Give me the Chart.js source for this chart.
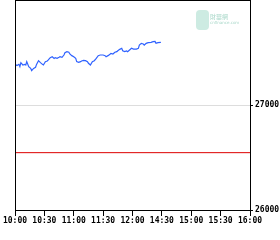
<!DOCTYPE html>
<html>
<head>
<meta charset="utf-8">
<script src="https://cdn.jsdelivr.net/npm/chart.js@4/dist/chart.umd.min.js"></script>
<style>
  html, body { margin: 0; padding: 0; background: #fff; }
</style>
</head>
<body>
<canvas id="chart" width="280" height="240"></canvas>
<script>
// Tick labels along the time axis (one every 30 trading minutes)
const timeLabels = ['10:00', '10:30', '11:00', '11:30', '12:00', '14:30', '15:00', '15:30', '16:00'];
const yTicks = [26000, 27000];
const yMin = 26000;
const yMax = 28000;

// Trading minutes since open, and index level at that minute
const minutes = [0, 2, 4, 5, 6, 8, 10, 11, 12, 14, 16, 17, 19, 21, 22, 24, 26, 28, 29, 31,
    33, 34, 36, 38, 40, 41, 43, 45, 46, 48, 50, 51, 53, 55, 56, 58, 60, 62, 63, 65,
    67, 68, 70, 72, 74, 75, 77, 79, 81, 83, 85, 87, 90, 92, 93, 95, 97, 98, 100, 102,
    104, 105, 107, 109, 110, 112, 114, 115, 117, 119, 121, 124, 126, 127, 129, 131, 132, 134, 136, 139,
    141, 143, 144, 146, 149];
const prices = [27387, 27375, 27387, 27365, 27403, 27381, 27387, 27381, 27413, 27365, 27349, 27327, 27349, 27359, 27387, 27422, 27403, 27387, 27381, 27413,
    27419, 27429, 27451, 27460, 27444, 27451, 27444, 27454, 27460, 27454, 27476, 27498, 27508, 27502, 27486, 27470, 27460, 27444, 27413, 27406,
    27413, 27419, 27425, 27422, 27413, 27397, 27381, 27413, 27422, 27444, 27470, 27476, 27476, 27470, 27460, 27470, 27483, 27492, 27486, 27502,
    27508, 27517, 27530, 27540, 27517, 27508, 27514, 27508, 27524, 27540, 27533, 27533, 27540, 27571, 27587, 27581, 27571, 27587, 27594, 27597,
    27603, 27606, 27587, 27594, 27597];
const prevClose = 26546;

const framePlugin = {
    id: 'frame',
    beforeDatasetsDraw(chart) {
        const ctx = chart.ctx;
        // faint watermark
        ctx.save();
        ctx.fillStyle = '#cdebe2';
        ctx.beginPath();
        ctx.roundRect(196, 10, 13, 20, 4);
        ctx.fill();
        ctx.fillStyle = '#a9d8c9';
        ctx.font = '6px "Noto Sans CJK TC"';
        ctx.textBaseline = 'middle';
        ctx.fillText('財華網', 210, 17);
        ctx.font = '4px "DejaVu Sans"';
        ctx.fillText('cnfinance.com', 210, 23);
        ctx.restore();
    },
    afterDraw(chart) {
        const ctx = chart.ctx;
        const a = chart.chartArea;
        ctx.save();
        ctx.strokeStyle = '#000';
        ctx.lineWidth = 1;
        ctx.strokeRect(Math.round(a.left) + 0.5, Math.round(a.top) + 0.5,
            Math.round(a.right - a.left), Math.round(a.bottom - a.top));
        ctx.restore();
    }
};

const ctx = document.getElementById('chart').getContext('2d');
new Chart(ctx, {
    type: 'line',
    data: {
        datasets: [{
            data: minutes.map((m, i) => ({ x: m, y: prices[i] })),
            borderColor: '#2f62ff',
            borderWidth: 1.2,
            pointRadius: 0,
            tension: 0
        }, {
            data: [{ x: 0, y: prevClose }, { x: 240, y: prevClose }],
            borderColor: '#dd0000',
            borderWidth: 1,
            pointRadius: 0
        }]
    },
    options: {
        responsive: false,
        animation: false,
        devicePixelRatio: 1,
        layout: { padding: { left: 15, top: 0, right: 0, bottom: 0 } },
        plugins: {
            legend: { display: false },
            tooltip: { enabled: false }
        },
        scales: {
            x: {
                type: 'linear',
                min: 0,
                max: 240,
                afterBuildTicks: scale => {
                    scale.ticks = timeLabels.map((t, i) => ({ value: i * 30 }));
                },
                afterFit: scale => { scale.height = 30; },
                border: { display: false },
                grid: { drawOnChartArea: false, tickColor: '#000', tickLength: 6 },
                ticks: {
                    autoSkip: false,
                    maxRotation: 0,
                    padding: 0,
                    color: '#000',
                    font: { family: 'DejaVu Sans Mono', size: 8, weight: 'bold' },
                    callback: (v, i) => timeLabels[i]
                }
            },
            y: {
                position: 'right',
                min: yMin,
                max: yMax,
                afterBuildTicks: scale => {
                    scale.ticks = yTicks.map(v => ({ value: v }));
                },
                afterFit: scale => {
                    scale.width = 30;
                    scale.paddingTop = 0;
                    scale.paddingBottom = 0;
                },
                border: { display: false },
                grid: {
                    color: c => (c.tick && c.tick.value === 27000) ? '#dddddd' : 'rgba(0,0,0,0)',
                    tickColor: '#000',
                    tickLength: 3
                },
                ticks: {
                    padding: 2,
                    color: '#000',
                    font: { family: 'DejaVu Sans Mono', size: 8, weight: 'bold' },
                    callback: v => String(v)
                }
            }
        }
    },
    plugins: [framePlugin]
});
</script>
</body>
</html>
